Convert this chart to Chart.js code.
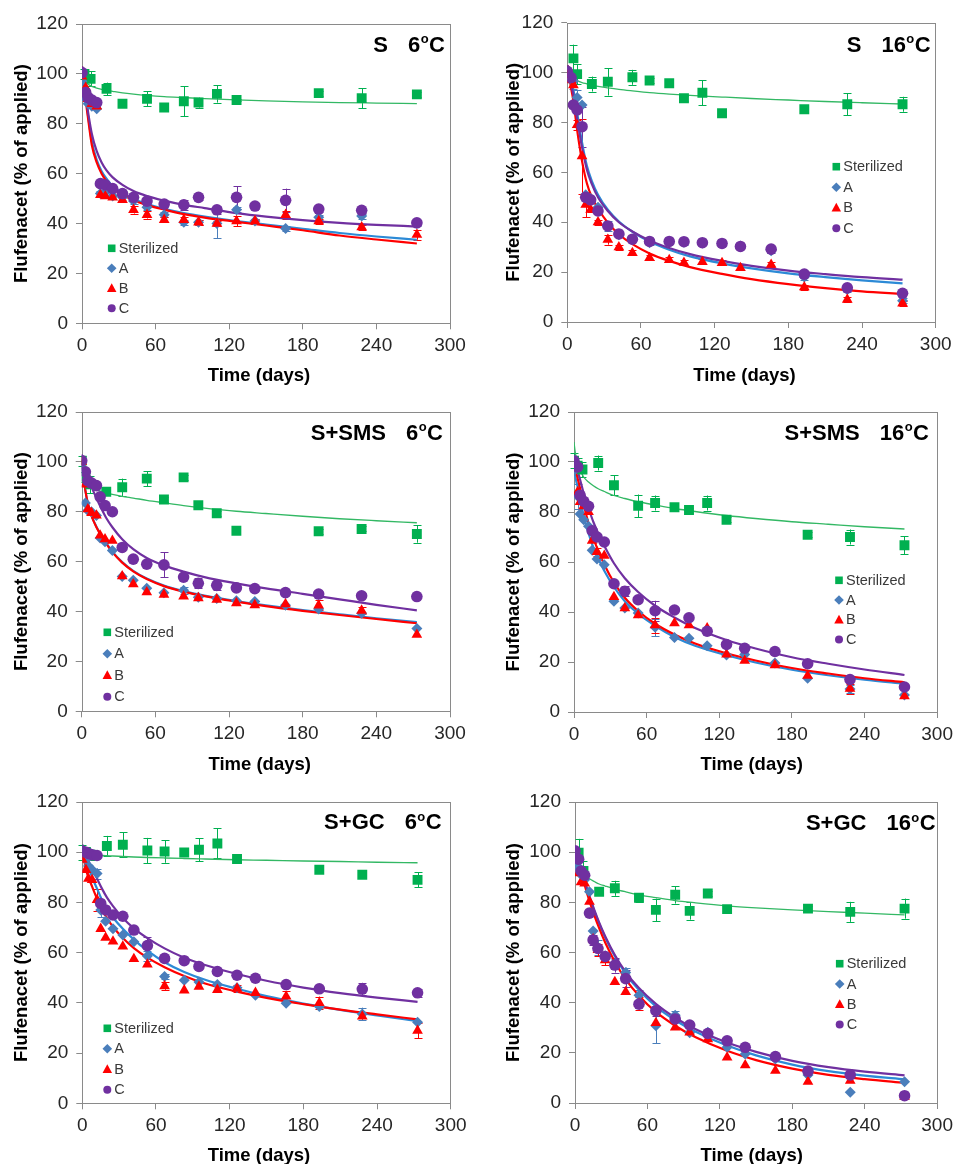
<!DOCTYPE html>
<html><head><meta charset="utf-8">
<script src="https://cdn.jsdelivr.net/npm/chart.js@4/dist/chart.umd.min.js"></script>
<style>
html,body{margin:0;padding:0;background:#fff;}
#wrap{position:relative;width:958px;height:1164px;overflow:hidden;background:#fff;}
canvas{position:absolute;}
</style></head><body><div id="wrap">
<canvas id="c1" width="479" height="388" style="left:0px;top:0px"></canvas>
<canvas id="c2" width="479" height="388" style="left:479px;top:0px"></canvas>
<canvas id="c3" width="479" height="388" style="left:0px;top:388px"></canvas>
<canvas id="c4" width="479" height="388" style="left:479px;top:388px"></canvas>
<canvas id="c5" width="479" height="388" style="left:0px;top:776px"></canvas>
<canvas id="c6" width="479" height="388" style="left:479px;top:776px"></canvas>
</div>
<script>
// ---------- DATA ----------
const seriesNames = ['Sterilized', 'A', 'B', 'C'];
const xTicks = [0, 60, 120, 180, 240, 300];
const yTicks = [0, 20, 40, 60, 80, 100, 120];
const days = [0, 3, 5, 8, 12, 15, 19, 25, 33, 42, 53, 67, 83, 95, 110, 126, 141, 166, 193, 228, 273];
const fitDays = [0, 1, 2, 3, 5, 8, 12, 16, 20, 25, 33, 42, 53, 67, 83, 100, 126, 150, 180, 210, 240, 273];

// Panel 1: S 6oC
const p1SterDays = [2, 7, 20, 33, 53, 67, 83, 95, 110, 126, 193, 228, 273];
const p1Ster = [100, 98, 94, 88, 90, 86.5, 89, 88.5, 92, 89.5, 92.3, 90.3, 91.8];
const p1ErrSter = [2, 3, 2.5, 0.5, 3, 0.5, 6, 2, 3.5, 0.5, 1, 4, 1];
const p1A = [97, 90, 88, 87, 86, 52, 52.5, 51, 50.5, 49, 46.5, 43.5, 40.5, 40.5, 40, 45.5, 41, 38, 42.5, 43, 40];
const p1B = [99, 94.5, 90, 88, 87, 51.5, 51, 50.5, 49.5, 45.5, 43.5, 41.5, 41.5, 40.5, 40, 41, 41, 43.5, 41, 38.5, 35.5];
const p1C = [100.5, 92.5, 90.5, 89.5, 88.5, 56, 55.5, 54, 52, 50.5, 49, 47.8, 47.5, 50.5, 45.5, 50.5, 47, 49.3, 45.8, 45.3, 40.3];
const p1ErrA = [0,0,0,0,0,1,0,0,1,1,1,1,1,1,6,1,1,1,1,1,1];
const p1ErrB = [0,0,0,0,0,0,0,0,1,1.5,1.5,1,1,1,1,2,1,1.5,1,1,2];
const p1ErrC = [0,0,0,0,0,0,0,0,0,0,1,1,2,1,1.5,4.5,1,4.7,1,1,1];
const p1FitSter = [100, 98.5, 97.5, 96.8, 95.8, 95, 94.3, 93.8, 93.4, 93, 92.4, 91.9, 91.4, 90.9, 90.5, 90.1, 89.6, 89.2, 88.8, 88.5, 88.3, 88.1];
const p1FitA = [103, 99, 95, 91.5, 83, 73, 65.5, 61, 58, 55, 52.2, 49.8, 47.8, 45.9, 44.2, 42.8, 41, 39.6, 37.9, 36.2, 34.8, 33.5];
const p1FitB = [103, 98.5, 94, 89.5, 82, 71.5, 64.5, 60, 57, 54.2, 51.6, 49.3, 47.4, 45.6, 43.8, 42.4, 40.7, 39.2, 37.3, 35.2, 33.6, 32];
const p1FitC = [103, 99, 95, 91, 84.5, 76, 69, 64.5, 61.3, 58.5, 55.5, 53, 51, 49.2, 47.5, 46.2, 44.2, 42.8, 41.4, 40.3, 39.5, 38.8];

// Panel 2: S 16oC
const p2SterDays = [5, 8, 20, 33, 53, 67, 83, 95, 110, 126, 193, 228, 273];
const p2Ster = [105.7, 99.4, 95.4, 96.3, 98.1, 96.8, 95.7, 89.7, 91.9, 83.7, 85.3, 87.3, 87.3];
const p2ErrSter = [5.5, 4, 3, 5.5, 3, 1, 1, 1, 5, 1, 1, 4.5, 3];
const p2A = [100, 97, 96.5, 90, 87, 51, 49.5, 46, 38.5, 35, 33, 31.8, 32.3, 32, 31.7, 31.5, 30.5, 28.6, 18, 13, 8.5];
const p2B = [99, 97, 95, 79, 66.5, 47, 45, 40, 33, 30, 27.7, 25.7, 24.9, 23.8, 24.1, 23.7, 21.7, 23, 14, 9, 7.5];
const p2C = [100.5, 98, 87, 85, 78.3, 50, 49, 44.5, 38.5, 35.3, 33.2, 32.3, 32.3, 32.2, 31.8, 31.5, 30.3, 29.2, 19.2, 13.7, 11.5];
const p2ErrA = [0,0,3,3,0,0,0,0,2,1,1,1,1,1,1,1,1,1,1,1,1];
const p2ErrB = [0,0,0,2,15,5,1,1,2,1,1,1,1,1,1,1,1,1,1,1,1];
const p2ErrC = [0,0,0,0,8,0,0,0,0,0,0,0,0,0,0,0,0,0,0,0,0];
const p2FitSter = [103, 101.5, 100.3, 99.4, 98, 96.8, 96, 95.5, 95, 94.5, 93.9, 93.3, 92.7, 92, 91.4, 90.9, 90.2, 89.6, 89, 88.4, 87.9, 87.4];
const p2FitA = [103, 101, 99, 97, 93, 84, 72, 62.5, 56.5, 51, 45, 40.3, 36.2, 32.3, 29, 26.3, 23.5, 21.5, 19.5, 18, 16.7, 15.5];
const p2FitB = [103, 100, 97, 94, 88.5, 77, 64.5, 55.5, 50, 45.5, 39.8, 35.2, 31.2, 27.5, 24.5, 22, 19.3, 17.2, 15.2, 13.6, 12.3, 11.2];
const p2FitC = [103, 100.5, 98, 95.5, 91, 81.5, 70, 61, 55.3, 50, 44.5, 40, 36.3, 32.7, 29.7, 27.2, 24.5, 22.5, 20.6, 19.2, 18, 17];

// Panel 3: S+SMS 6oC
const p3SterDays = [0, 3, 7, 20, 33, 53, 67, 83, 95, 110, 126, 193, 228, 273];
const p3Ster = [100.5, 94, 91, 88, 89.8, 93.3, 84.9, 93.8, 82.6, 79.4, 72.4, 72.2, 73.1, 71.1];
const p3ErrSter = [2, 2, 3.5, 1, 3.5, 3, 1, 1, 1, 1, 1, 1, 1, 3.5];
const p3A = [97.5, 83.5, 80.5, 80, 78.5, 69.5, 68, 64.5, 54, 52.5, 49.3, 47.5, 48.5, 45.7, 45.2, 44.3, 44, 42.5, 41, 39.3, 33.2];
const p3B = [100, 91, 81, 79.5, 78.5, 70.5, 69, 68.4, 54.2, 51, 47.8, 46.8, 46.1, 45.4, 44.8, 43.4, 42.6, 43, 42.5, 40.4, 30.7];
const p3C = [100.5, 96, 92.5, 91.5, 90.5, 86, 82.5, 80, 65.7, 61, 59, 58.7, 53.8, 51.3, 50.5, 49.5, 49.2, 47.6, 47, 46.3, 46];
const p3ErrA = [0,0,0,0,0,0,0,0,0,0,0,0,1.5,0,0,0,0,0,0,0,0];
const p3ErrB = [0,0,0,0,0,0,0,0,0,0,0,0,0,0,0,0,0,0,2,1.5,0];
const p3ErrC = [0,0,0,0,0,0,0,0,0,0,0,5,0,2,2,0,0,0,0,0,0];
const p3FitSter = [98, 96.5, 95, 94, 91.7, 90.2, 89, 88.2, 87.6, 87, 86.2, 85.5, 84.6, 83.6, 82.5, 81.5, 80.2, 79.3, 78.2, 77.2, 76.4, 75.6];
const p3FitA = [101, 96, 92, 88.5, 83.5, 78.5, 74, 70.5, 67.5, 64, 59.8, 56.3, 53.2, 50.4, 48.2, 46.4, 44.2, 42.5, 40.6, 38.9, 37.3, 35.8];
const p3FitB = [101, 96, 92, 88.5, 83.3, 78.3, 73.8, 70.3, 67.3, 63.8, 59.6, 56.1, 53, 50.2, 48, 46.2, 44, 42.2, 40.3, 38.6, 37, 35.3];
const p3FitC = [103, 101, 99, 97, 94, 90, 85.5, 81.3, 77.5, 73.8, 69, 65, 61.5, 58.5, 56, 53.8, 51.3, 49.3, 47.1, 44.9, 42.7, 40.5];

// Panel 4: S+SMS 16oC
const p4SterDays = [0, 3, 7, 20, 33, 53, 67, 83, 95, 110, 126, 193, 228, 273];
const p4Ster = [100.5, 98.5, 97, 99.6, 90.7, 82.5, 83.6, 81.9, 80.8, 83.6, 76.9, 70.9, 70, 66.7];
const p4ErrSter = [3, 3, 3, 3, 4, 4.5, 3, 1, 1, 3, 1, 1, 3, 3.5];
const p4A = [96.5, 86.3, 79.2, 76.9, 74.3, 64.7, 61.2, 58.9, 44.3, 41.6, 39.6, 33.9, 29.8, 29.5, 26.5, 22.8, 23, 19.6, 13.5, 9.2, 6.8];
const p4B = [99.5, 88, 84, 82.3, 80, 68.5, 64, 62.5, 46, 41.5, 38.7, 34.7, 35.5, 34.7, 33.5, 23, 20.5, 18.7, 14.5, 9.3, 6.3];
const p4C = [100.5, 98, 86.7, 84.3, 82.3, 72.5, 70, 68, 51.3, 48.3, 44.9, 40.5, 40.8, 37.7, 32.3, 27, 25.5, 24.2, 19.3, 13, 10];
const p4ErrA = [0,5,0,0,0,0,0,0,0,0,0,3.5,0,0,0,0,0,0,0,1.5,0];
const p4ErrB = [0,0,0,0,0,0,1.5,0,0,0,0,3,0,0,0,0,0,0,0,2,0];
const p4ErrC = [0,0,0,0,0,0,0,0,0,2,0,4,0,0,0,0,0,0,0,0,0];
const p4FitSter = [108, 104, 101.5, 100, 96.8, 94, 92, 90.5, 89.3, 88.2, 86.6, 85.4, 84.1, 82.8, 81.4, 80.2, 78.6, 77.4, 76.1, 75.1, 74.1, 73.2];
const p4FitA = [97, 94.5, 92, 90, 85.5, 78.5, 71.5, 65.8, 61.5, 56.5, 50, 44.3, 39.3, 34.5, 30, 26.5, 22.7, 19.8, 16.9, 14.7, 12.9, 11.3];
const p4FitB = [99, 97.5, 95.5, 93.5, 89.5, 83, 75.5, 69.5, 64.5, 59, 51.8, 45.7, 40.4, 35.3, 31, 27.4, 23.5, 20.6, 17.6, 15.4, 13.5, 11.9];
const p4FitC = [100, 99, 98, 96.5, 93, 87.5, 81.5, 76, 71.5, 66.5, 59.5, 53.5, 48, 42.5, 37.8, 33.6, 28.8, 25.4, 21.9, 19.3, 17, 14.8];

// Panel 5: S+GC 6oC
const p5SterDays = [0, 3, 7, 20, 33, 53, 67, 83, 95, 110, 126, 193, 228, 273];
const p5Ster = [100, 100, 99, 102.5, 103, 100.7, 100.3, 99.9, 101, 103.5, 97.3, 93, 91, 89];
const p5ErrSter = [3, 2, 2, 4, 5, 5, 4.5, 1, 4.5, 6, 1, 1, 1, 3];
const p5A = [100, 97, 94.5, 93, 91.5, 77, 72.5, 69.5, 67, 64.3, 58.7, 50.5, 49, 48.3, 47.3, 46, 43, 39.8, 38.6, 35.6, 32.3];
const p5B = [97, 93, 89.5, 89, 81, 69.5, 66, 64.5, 62.5, 57.5, 55.3, 46.7, 45, 46.5, 45.2, 45.7, 44, 42.6, 40, 34.6, 28.9];
const p5C = [100.5, 100, 99.5, 99, 98.7, 79.6, 77, 75, 74.5, 69, 62.8, 57.7, 56.8, 54.5, 52.5, 51, 49.8, 47.3, 45.6, 45.5, 44];
const p5ErrA = [0,0,0,0,2,3,0,0,0,0,2,1,0,0,0,0,0,0,0,2.5,0];
const p5ErrB = [0,0,0,0,4.5,0,0,0,0,0,0,1.5,0,0,0,1.5,0,2,2.5,0,3];
const p5ErrC = [0,0,0,0,0,0,0,0,0,0,3.5,0,0,0,0,0,0,0,0,2.5,1.5];
const p5FitSter = [100.5, 100.2, 99.9, 99.7, 99.4, 99.1, 98.9, 98.7, 98.6, 98.5, 98.3, 98.1, 97.9, 97.7, 97.5, 97.3, 97, 96.8, 96.5, 96.3, 96, 95.8];
const p5FitA = [102, 100.5, 98.5, 97, 94, 90, 85.5, 81, 77.5, 74, 69.5, 65.2, 60.8, 56.2, 52.3, 49.2, 45.6, 42.7, 39.7, 37.2, 35, 32.7];
const p5FitB = [101, 98, 95.5, 93, 90, 86.3, 81.5, 77.3, 73.8, 70.3, 65.8, 61.8, 58, 54.2, 50.7, 47.7, 44.5, 42, 39.5, 37.3, 35.4, 33.4];
const p5FitC = [103, 101.5, 100, 98.5, 96.5, 93.5, 89.5, 85.5, 82, 78.5, 73.8, 69.7, 65.8, 61.7, 58, 55.1, 51.5, 48.8, 46.1, 43.9, 42.1, 40.4];

// Panel 6: S+GC 16oC
const p6SterDays = [3, 7, 20, 33, 53, 67, 83, 95, 110, 126, 193, 228, 273];
const p6Ster = [99.8, 92.5, 84.2, 85.6, 81.8, 77, 83, 76.6, 83.5, 77.3, 77.5, 76.2, 77.5];
const p6ErrSter = [5.5, 4, 1, 3, 1.5, 4.5, 3.5, 3.5, 1, 1, 1, 4, 4];
const p6A = [96, 94, 91, 89, 84.2, 68.6, 62, 58.7, 55.4, 52, 43, 30.8, 35, 28, 28.2, 22.2, 19.5, 17.5, 11.2, 4.3, 8.5];
const p6B = [99.5, 91.6, 88, 87.5, 80.3, 65.3, 61, 57, 48.3, 44.3, 39.7, 31.9, 30.1, 28.1, 25.5, 18.2, 15.1, 12.9, 8.5, 8.9, 2.5];
const p6C = [100.5, 97.2, 92.5, 90.8, 75.7, 65, 61.6, 58.4, 55, 49.6, 39.4, 36.8, 33.5, 31.1, 27.7, 24.8, 22.2, 18.5, 12.7, 11.2, 2.9];
const p6ErrA = [0,0,0,0,0,0,3,0,2,2,2,7,1.5,0,0,0,0,0,0,0,0];
const p6ErrB = [0,0,0,0,0,0,2.5,2,0,0,2.5,0,0,0,0,0,0,0,0,0,0];
const p6ErrC = [0,0,0,0,0,2,0,0,3,3.5,0,2,0,0,0,1.5,0,0,0,0,0];
const p6FitSter = [99, 97.5, 96.2, 95, 92.8, 90.8, 89.4, 88.3, 87.3, 86.5, 85.3, 84.2, 83, 81.9, 80.7, 79.8, 78.6, 77.8, 77, 76.3, 75.7, 75];
const p6FitA = [100, 98.5, 97, 95.5, 92.5, 88, 82, 76.5, 71.5, 66, 58.5, 51.5, 45, 38.5, 33, 28.4, 22.9, 19, 15.3, 12.7, 10.9, 9.4];
const p6FitB = [100, 98.3, 96.6, 95, 91.5, 86.8, 80.5, 74.8, 69.7, 64, 56.3, 49.3, 42.8, 36.3, 30.8, 26.2, 20.8, 17.1, 13.7, 11.2, 9.5, 8];
const p6FitC = [100, 98.6, 97.2, 95.8, 93, 88.5, 82.5, 77, 72, 66.5, 59, 52.2, 45.8, 39.5, 34, 29.4, 24.1, 20.4, 16.8, 14.3, 12.5, 11];

// ---------- STYLE ----------
const FONT = "'Liberation Sans', Arial, Helvetica, sans-serif";
const COL = {
  ster: '#00B050', sterLine: '#33B864',
  A: '#4A7EBB', ALine: '#2C8AD6',
  B: '#FF0000', BLine: '#FF0000',
  C: '#7030A0', CLine: '#7030A0'
};
const AXIS_GRAY = '#8A8A8A';

function pts(xs, ys) { return xs.map((x, i) => ({ x: x, y: ys[i] })); }

function drawMarker(ctx, style, x, y, r, color) {
  ctx.save();
  ctx.fillStyle = color;
  ctx.beginPath();
  if (style === 'rect') {
    ctx.rect(x - r, y - r, 2 * r, 2 * r);
  } else if (style === 'rectRot') {
    ctx.moveTo(x, y - r); ctx.lineTo(x + r, y); ctx.lineTo(x, y + r); ctx.lineTo(x - r, y);
    ctx.closePath();
  } else if (style === 'triangle') {
    ctx.moveTo(x, y - r); ctx.lineTo(x + r * 0.95, y + r * 0.75); ctx.lineTo(x - r * 0.95, y + r * 0.75);
    ctx.closePath();
  } else {
    ctx.arc(x, y, r, 0, Math.PI * 2);
  }
  ctx.fill();
  ctx.restore();
}

const decoPlugin = {
  id: 'deco',
  beforeDatasetsDraw(chart, args, o) {
    const { ctx, chartArea: ca, scales } = chart;
    const xs = scales.x, ys = scales.y;
    // plot box
    ctx.save();
    ctx.strokeStyle = AXIS_GRAY;
    ctx.lineWidth = 1;
    ctx.strokeRect(Math.round(ca.left) + 0.5, Math.round(ca.top) + 0.5,
      Math.round(ca.right - ca.left), Math.round(ca.bottom - ca.top));
    ctx.restore();
    // error bars
    chart.data.datasets.forEach((ds) => {
      if (!ds.errorBars) return;
      ctx.save();
      ctx.strokeStyle = ds.borderColor;
      ctx.lineWidth = 1;
      ds.data.forEach((p, i) => {
        const e = ds.errorBars[i];
        if (!e) return;
        const px = Math.round(xs.getPixelForValue(p.x)) + 0.5;
        const y1 = ys.getPixelForValue(p.y - e), y2 = ys.getPixelForValue(p.y + e);
        ctx.beginPath();
        ctx.moveTo(px, y1); ctx.lineTo(px, y2);
        ctx.moveTo(px - 4, Math.round(y1) + 0.5); ctx.lineTo(px + 4, Math.round(y1) + 0.5);
        ctx.moveTo(px - 4, Math.round(y2) + 0.5); ctx.lineTo(px + 4, Math.round(y2) + 0.5);
        ctx.stroke();
      });
      ctx.restore();
    });
  },
  afterDraw(chart, args, o) {
    const { ctx, chartArea: ca } = chart;
    ctx.save();
    ctx.fillStyle = '#000';
    // y axis title
    ctx.font = 'bold 18.5px ' + FONT;
    ctx.textAlign = 'center';
    ctx.textBaseline = 'middle';
    ctx.save();
    ctx.translate(o.yTitleX, (ca.top + ca.bottom) / 2);
    ctx.rotate(-Math.PI / 2);
    ctx.fillText('Flufenacet (% of applied)', 0, 0);
    ctx.restore();
    // x axis title
    ctx.fillText('Time (days)', o.xTitleX, o.xTitleY);
    // panel title
    ctx.textBaseline = 'alphabetic';
    ctx.textAlign = 'left';
    ctx.font = 'bold 22px ' + FONT;
    const wC = ctx.measureText('C').width;
    const wT = ctx.measureText(o.temp).width;
    ctx.font = 'bold 13px ' + FONT;
    const wO = ctx.measureText('o').width;
    const x0 = o.titleRight - wC - wO - wT - 1;
    ctx.font = 'bold 22px ' + FONT;
    ctx.fillText(o.temp, x0, o.titleBase);
    ctx.fillText('C', x0 + wT + wO + 1, o.titleBase);
    ctx.font = 'bold 13px ' + FONT;
    ctx.fillText('o', x0 + wT + 0.5, o.titleBase - 8.5);
    ctx.font = 'bold 22px ' + FONT;
    ctx.textAlign = 'right';
    ctx.fillText(o.name, x0 - 20, o.titleBase);
    // legend
    const L = o.legend;
    const styles = [['rect', 3.8, COL.ster], ['rectRot', 4.8, COL.A], ['triangle', 5, COL.B], ['circle', 4, COL.C]];
    ctx.font = '14.5px ' + FONT;
    ctx.textAlign = 'left';
    ctx.textBaseline = 'middle';
    ctx.fillStyle = '#3A3A3A';
    seriesNames.forEach((nm, i) => {
      const yy = L.y + i * L.dy;
      drawMarker(ctx, styles[i][0], L.x, yy, styles[i][1], styles[i][2]);
      ctx.fillStyle = '#3A3A3A';
      ctx.fillText(nm, L.x + 7, yy + 0.5);
    });
    ctx.restore();
  }
};

function makePanel(id, d, lay) {
  const pointDs = (label, xs, ys, err, color, style, r, order) => ({
    label, data: pts(xs, ys), errorBars: err, showLine: false,
    pointStyle: style, pointRadius: r, pointHoverRadius: r,
    backgroundColor: color, borderColor: color, pointBorderWidth: 0, order
  });
  const fitDs = (label, ys, color, w, order) => ({
    label, data: pts(fitDays, ys), showLine: true, fill: false,
    pointRadius: 0, pointHoverRadius: 0, borderColor: color, backgroundColor: color,
    borderWidth: w, cubicInterpolationMode: 'monotone', order
  });
  const tickFont = { family: FONT, size: 19 };
  new Chart(document.getElementById(id), {
    type: 'scatter',
    data: {
      datasets: [
        pointDs('Sterilized', d.sterDays, d.ster, d.errSter, COL.ster, 'rect', 7, 3),
        pointDs('A', days, d.A, d.errA, COL.A, 'rectRot', 5.5, 2),
        pointDs('B', days, d.B, d.errB, COL.B, 'triangle', 6.2, 1),
        pointDs('C', days, d.C, d.errC, COL.C, 'circle', 5.8, 0),
        fitDs('Sterilized fit', d.fitSter, COL.sterLine, 1.3, 7),
        fitDs('A fit', d.fitA, COL.ALine, 2.2, 6),
        fitDs('B fit', d.fitB, COL.BLine, 2.2, 5),
        fitDs('C fit', d.fitC, COL.CLine, 2.2, 4)
      ]
    },
    options: {
      responsive: false, animation: false, events: [],
      layout: { padding: { left: 0, top: lay.top, right: 479 - lay.right, bottom: 0 } },
      plugins: {
        legend: { display: false }, tooltip: { enabled: false }, title: { display: false },
        deco: lay.deco
      },
      scales: {
        x: {
          type: 'linear', min: 0, max: 300,
          afterBuildTicks: (s) => { s.ticks = xTicks.map(v => ({ value: v })); },
          afterFit: (s) => { s.height = 388 - lay.bottom; },
          ticks: { font: tickFont, color: '#262626', padding: 5, maxRotation: 0, autoSkip: false },
          grid: { drawOnChartArea: false, drawTicks: true, tickLength: 6, color: AXIS_GRAY },
          border: { display: false }
        },
        y: {
          type: 'linear', min: 0, max: 120,
          afterBuildTicks: (s) => { s.ticks = yTicks.map(v => ({ value: v })); },
          afterFit: (s) => { s.width = lay.left; },
          ticks: { font: tickFont, color: '#262626', padding: 8, autoSkip: false },
          grid: { drawOnChartArea: false, drawTicks: true, tickLength: 6, color: AXIS_GRAY },
          border: { display: false }
        }
      }
    },
    plugins: [decoPlugin]
  });
}

Chart.defaults.font.family = FONT;

makePanel('c1',
  { sterDays: p1SterDays, ster: p1Ster, errSter: p1ErrSter, A: p1A, B: p1B, C: p1C, errA: p1ErrA, errB: p1ErrB, errC: p1ErrC,
    fitSter: p1FitSter, fitA: p1FitA, fitB: p1FitB, fitC: p1FitC },
  { left: 82, right: 450, top: 24, bottom: 323.3,
    deco: { name: 'S', temp: '6', titleRight: 445, titleBase: 51.5, yTitleX: 21.7, xTitleX: 259, xTitleY: 376,
      legend: { x: 111.7, y: 248.3, dy: 20 } } });

makePanel('c2',
  { sterDays: p2SterDays, ster: p2Ster, errSter: p2ErrSter, A: p2A, B: p2B, C: p2C, errA: p2ErrA, errB: p2ErrB, errC: p2ErrC,
    fitSter: p2FitSter, fitA: p2FitA, fitB: p2FitB, fitC: p2FitC },
  { left: 88.3, right: 456.7, top: 22.7, bottom: 322,
    deco: { name: 'S', temp: '16', titleRight: 451.7, titleBase: 51.5, yTitleX: 35, xTitleX: 265.5, xTitleY: 376,
      legend: { x: 357.3, y: 166.7, dy: 20.5 } } });

makePanel('c3',
  { sterDays: p3SterDays, ster: p3Ster, errSter: p3ErrSter, A: p3A, B: p3B, C: p3C, errA: p3ErrA, errB: p3ErrB, errC: p3ErrC,
    fitSter: p3FitSter, fitA: p3FitA, fitB: p3FitB, fitC: p3FitC },
  { left: 81.7, right: 450, top: 24, bottom: 323.3,
    deco: { name: 'S+SMS', temp: '6', titleRight: 443, titleBase: 51.5, yTitleX: 21.7, xTitleX: 259.7, xTitleY: 376.7,
      legend: { x: 107.3, y: 244.3, dy: 21.5 } } });

makePanel('c4',
  { sterDays: p4SterDays, ster: p4Ster, errSter: p4ErrSter, A: p4A, B: p4B, C: p4C, errA: p4ErrA, errB: p4ErrB, errC: p4ErrC,
    fitSter: p4FitSter, fitA: p4FitA, fitB: p4FitB, fitC: p4FitC },
  { left: 95, right: 463.3, top: 24, bottom: 324,
    deco: { name: 'S+SMS', temp: '16', titleRight: 450, titleBase: 51.5, yTitleX: 35, xTitleX: 272.7, xTitleY: 376.7,
      legend: { x: 360, y: 192.3, dy: 19.7 } } });

makePanel('c5',
  { sterDays: p5SterDays, ster: p5Ster, errSter: p5ErrSter, A: p5A, B: p5B, C: p5C, errA: p5ErrA, errB: p5ErrB, errC: p5ErrC,
    fitSter: p5FitSter, fitA: p5FitA, fitB: p5FitB, fitC: p5FitC },
  { left: 82.3, right: 450.7, top: 26, bottom: 327.3,
    deco: { name: 'S+GC', temp: '6', titleRight: 441.7, titleBase: 53.3, yTitleX: 21.7, xTitleX: 259, xTitleY: 379.5,
      legend: { x: 107.3, y: 252.3, dy: 20.5 } } });

makePanel('c6',
  { sterDays: p6SterDays, ster: p6Ster, errSter: p6ErrSter, A: p6A, B: p6B, C: p6C, errA: p6ErrA, errB: p6ErrB, errC: p6ErrC,
    fitSter: p6FitSter, fitA: p6FitA, fitB: p6FitB, fitC: p6FitC },
  { left: 96, right: 464, top: 26, bottom: 327,
    deco: { name: 'S+GC', temp: '16', titleRight: 456.7, titleBase: 54.3, yTitleX: 35, xTitleX: 272.7, xTitleY: 379.5,
      legend: { x: 360.7, y: 187.7, dy: 20.3 } } });
</script>
</body></html>
